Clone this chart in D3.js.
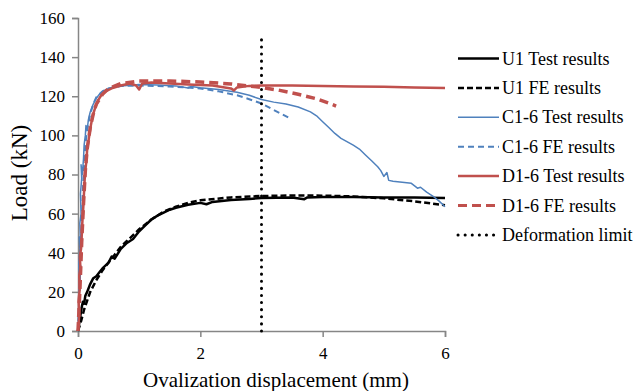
<!DOCTYPE html>
<html>
<head>
<meta charset="utf-8">
<script src="https://cdn.jsdelivr.net/npm/d3@7"></script>
<style>
  body { margin:0; background:#fff; }
  text { font-family:"Liberation Serif","Times New Roman",serif; fill:#000; }
</style>
</head>
<body>
<svg></svg>
<script>
const WIDTH = 639
const HEIGHT = 391
const X_TICKS = [0,2,4,6]
const Y_TICKS = [0,20,40,60,80,100,120,140,160]
const DEFORMATION_LIMIT = [[3,0],[3,150]]

const U1_TEST = [[0,0],[0.02,4],[0.04,8],[0.06,12],[0.08,15],[0.1,14],[0.12,18],[0.15,20],[0.2,24],[0.25,27],[0.3,28],[0.35,30],[0.4,32],[0.5,35],[0.55,38],[0.6,37],[0.7,42],[0.8,45],[0.9,47],[1.0,51],[1.1,54],[1.2,57],[1.3,59],[1.4,60.5],[1.5,62],[1.6,63],[1.8,64.5],[2.0,65.5],[2.1,64.8],[2.2,66],[2.5,67],[2.8,67.5],[3.0,68],[3.5,68.3],[3.7,67.4],[3.75,68.3],[4.0,68.5],[4.5,68.5],[5.0,68.3],[5.5,68.2],[6.0,68]]
const U1_FE = [[0,0],[0.05,5],[0.1,11],[0.2,20],[0.3,26],[0.4,31],[0.5,35],[0.6,39],[0.7,43],[0.8,46],[1.0,52],[1.2,57],[1.4,61],[1.6,63.5],[1.8,65.5],[2.0,66.8],[2.5,68.3],[3.0,69],[3.5,69.3],[4.0,69.2],[4.5,68.8],[5.0,67.8],[5.5,66.3],[6.0,64.3]]
const C1_TEST = [[0,0],[0.01,10],[0.02,25],[0.015,35],[0.03,42],[0.02,48],[0.04,45],[0.03,55],[0.05,60],[0.04,70],[0.06,78],[0.05,85],[0.07,80],[0.09,88],[0.1,95],[0.12,100],[0.13,105],[0.15,103],[0.17,108],[0.2,112],[0.25,116],[0.3,119],[0.35,121],[0.4,122.5],[0.5,124],[0.6,125],[0.8,125.5],[1.0,126],[1.3,125.8],[1.6,125.3],[1.8,124.2],[1.85,125],[2.0,124.3],[2.3,123.5],[2.6,122],[2.8,120.5],[3.0,118.3],[3.2,117],[3.4,116],[3.6,114.5],[3.8,112],[3.9,110],[4.0,107],[4.1,104],[4.2,101],[4.3,98.5],[4.5,95],[4.6,93],[4.7,90],[4.8,87],[4.9,84],[4.95,82],[5.0,79],[5.05,81],[5.08,77],[5.15,76.5],[5.3,76],[5.45,75.5],[5.55,73],[5.6,73.5],[5.7,71],[5.8,69],[5.9,66.5],[6.0,63.5]]
const C1_FE = [[0,0],[0.02,15],[0.04,35],[0.06,55],[0.08,72],[0.1,85],[0.12,95],[0.15,103],[0.2,111],[0.25,116],[0.3,119.5],[0.4,122.5],[0.5,124],[0.7,125.2],[1.0,125.5],[1.5,125],[2.0,124],[2.3,122.5],[2.6,120.5],[2.8,118.5],[3.0,116.3],[3.2,113],[3.45,109]]
const D1_TEST = [[0,0],[0.02,8],[0.01,15],[0.03,22],[0.02,28],[0.04,32],[0.03,38],[0.05,42],[0.06,48],[0.07,55],[0.08,60],[0.09,65],[0.1,72],[0.11,78],[0.12,82],[0.14,88],[0.15,93],[0.17,97],[0.19,101],[0.21,105],[0.24,110],[0.28,114],[0.33,118],[0.38,120.5],[0.45,122.5],[0.55,124],[0.7,125.5],[0.85,126.5],[0.95,125.5],[1.0,123.5],[1.05,126.5],[1.2,127],[1.5,126.5],[1.8,126],[2.2,125.5],[2.5,124],[2.55,123],[2.6,124.5],[2.8,125.3],[3.0,125.5],[3.5,125.5],[4.0,125.3],[4.5,125],[5.0,124.8],[5.5,124.5],[6.0,124.2]]
const D1_FE = [[0,0],[0.03,20],[0.06,45],[0.09,65],[0.12,82],[0.15,93],[0.2,104],[0.25,111],[0.3,116],[0.4,121],[0.5,124],[0.7,126.5],[1.0,127.8],[1.5,127.8],[2.0,127.3],[2.5,126.3],[3.0,124.5],[3.3,123],[3.6,121],[3.9,118.7],[4.1,116.5],[4.22,115]]

const SERIES = [
  {name:'U1 Test results', data:U1_TEST, color:'#000', width:2.5, dash:null},
  {name:'U1 FE results', data:U1_FE, color:'#000', width:2.5, dash:'6,3'},
  {name:'C1-6 Test results', data:C1_TEST, color:'#4F81BD', width:1.5, dash:null},
  {name:'C1-6 FE results', data:C1_FE, color:'#4F81BD', width:2, dash:'6,4'},
  {name:'D1-6 Test results', data:D1_TEST, color:'#C0504D', width:2.5, dash:null},
  {name:'D1-6 FE results', data:D1_FE, color:'#C0504D', width:3.5, dash:'9,5'},
  {name:'Deformation limit', data:DEFORMATION_LIMIT, color:'#000', width:3, dash:'0.1,7', cap:'round'}
]

const svg = d3.select('svg')
  .attr('width',WIDTH)
  .attr('height',HEIGHT)

const x = d3.scaleLinear().domain([0,6]).range([78,445])
const y = d3.scaleLinear().domain([0,160]).range([331,18])
const AXIS_COLOR = '#868686'

const yAxis = svg.append('g')
  .attr('transform',`translate(${x(0)},0)`)
  .call(d3.axisLeft(y).tickValues(Y_TICKS).tickSize(6).tickPadding(7).tickFormat(d3.format('d')))
const xAxis = svg.append('g')
  .attr('transform',`translate(0,${y(0)})`)
  .call(d3.axisBottom(x).tickValues(X_TICKS).tickSize(6).tickPadding(10).tickFormat(d3.format('d')))
;[xAxis,yAxis].forEach(a => {
  a.select('.domain').attr('stroke',AXIS_COLOR).attr('stroke-width',1.5)
  a.selectAll('.tick line').attr('stroke',AXIS_COLOR).attr('stroke-width',1.5)
  a.selectAll('.tick text')
    .attr('font-family','"Liberation Serif",serif')
    .attr('font-size',17)
    .attr('fill','#000')
})

const line = d3.line().x(d => x(d[0])).y(d => y(d[1]))

svg.append('g').selectAll('path')
  .data(SERIES)
  .enter().append('path')
  .attr('d',d => line(d.data))
  .attr('fill','none')
  .attr('stroke',d => d.color)
  .attr('stroke-width',d => d.width)
  .attr('stroke-dasharray',d => d.dash)
  .attr('stroke-linecap',d => d.cap || 'butt')
  .attr('stroke-linejoin','round')

// legend
const legend = svg.append('g').selectAll('g')
  .data(SERIES)
  .enter().append('g')
  .attr('transform',(d,i) => `translate(458,${58.5+i*29.4})`)
legend.append('line')
  .attr('x1',0).attr('x2',41)
  .attr('stroke',d => d.color)
  .attr('stroke-width',d => Math.min(d.width,3))
  .attr('stroke-dasharray',d => d.dash)
  .attr('stroke-linecap',d => d.cap || 'butt')
legend.append('text')
  .attr('x',44)
  .attr('dominant-baseline','central')
  .attr('font-size',18)
  .text(d => d.name)

svg.append('text')
  .attr('x',276)
  .attr('y',387)
  .attr('text-anchor','middle')
  .attr('font-size',21)
  .text('Ovalization displacement (mm)')

svg.append('text')
  .attr('transform',`translate(27,173) rotate(-90)`)
  .attr('text-anchor','middle')
  .attr('font-size',23)
  .text('Load (kN)')
</script>
</body>
</html>
